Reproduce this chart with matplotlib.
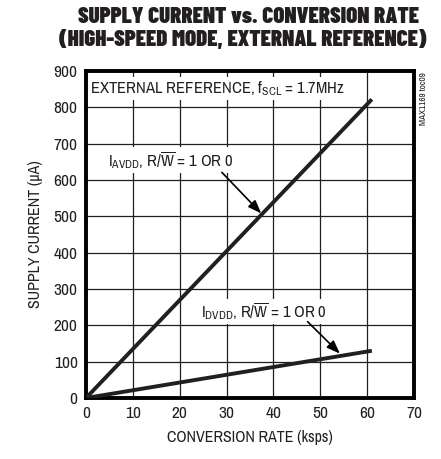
import matplotlib
matplotlib.use('Agg')
import matplotlib.pyplot as plt

# Data
rate_ksps = [0, 61]
i_avdd = [0, 822]
i_dvdd = [0, 130]
x_ticks = [0, 10, 20, 30, 40, 50, 60, 70]
y_ticks = [0, 100, 200, 300, 400, 500, 600, 700, 800, 900]

NARROW = ['Archivo Narrow', 'Liberation Sans Narrow', 'DejaVu Sans']
COND = ['Barlow Condensed', 'Archivo Narrow', 'DejaVu Sans']
INK = '#231f20'

plt.rcParams['font.family'] = NARROW
plt.rcParams['mathtext.fontset'] = 'custom'
plt.rcParams['mathtext.rm'] = 'Archivo Narrow'
plt.rcParams['mathtext.it'] = 'Archivo Narrow'
plt.rcParams['mathtext.bf'] = 'Archivo Narrow'
plt.rcParams['mathtext.default'] = 'regular'

fig = plt.figure(figsize=(4.41, 4.59), dpi=100)
ax = fig.add_axes([86/441, 1 - 398/459, 328/441, 327/459])

ax.set_xlim(0, 70)
ax.set_ylim(0, 900)
ax.set_xticks(x_ticks)
ax.set_yticks(y_ticks)
ax.tick_params(length=0, labelsize=12.5, colors=INK, pad=6)
ax.grid(True, color=INK, linewidth=0.9)
ax.set_axisbelow(True)
for s in ax.spines.values():
    s.set_linewidth(2.8)
    s.set_color('black')

ax.plot(rate_ksps, i_avdd, color=INK, linewidth=2.8, solid_capstyle='butt', zorder=3)
ax.plot(rate_ksps, i_dvdd, color=INK, linewidth=2.8, solid_capstyle='butt', zorder=3)

ax.set_xlabel('CONVERSION RATE (ksps)', fontsize=11.5, color=INK, labelpad=6)
ax.set_ylabel('SUPPLY CURRENT (µA)', fontsize=11.5, color=INK, labelpad=8)

box = dict(facecolor='white', edgecolor='none', pad=1.5)
ax.text(0.8, 852, 'EXTERNAL REFERENCE, f$_{SCL}$ = 1.7MHz', fontsize=12, color=INK,
        va='center', ha='left', bbox=box, zorder=2)
ax.text(4.6, 655, r'I$_{AVDD}$, R/$\overline{W}$ = 1 OR 0', fontsize=12, color=INK,
        va='center', ha='left', bbox=box, zorder=2)
ax.text(24.6, 238, r'I$_{DVDD}$, R/$\overline{W}$ = 1 OR 0', fontsize=12, color=INK,
        va='center', ha='left', bbox=box, zorder=2)

arrow = dict(arrowstyle='-|>,head_length=0.8,head_width=0.3', color='black', lw=1.2, shrinkA=0, shrinkB=0)
ax.annotate('', xy=(37.4, 508), xytext=(29, 621), arrowprops=arrow, zorder=4)
ax.annotate('', xy=(54.2, 122), xytext=(47.3, 210), arrowprops=arrow, zorder=4)

fig.text(248/441, 1 - 17/459, 'SUPPLY CURRENT vs. CONVERSION RATE', ha='center', va='center',
         fontsize=16.5, fontweight='black', family=COND, color=INK)
fig.text(243/441, 1 - 40/459, '(HIGH-SPEED MODE, EXTERNAL REFERENCE)', ha='center', va='center',
         fontsize=16.5, fontweight='black', family=COND, color=INK)
fig.text(423/441, 1 - 72/459, 'MAX1169 toc09', rotation=90, ha='center', va='top',
         fontsize=6.5, color=INK)

fig.savefig('out.png', dpi=100, facecolor='white')
